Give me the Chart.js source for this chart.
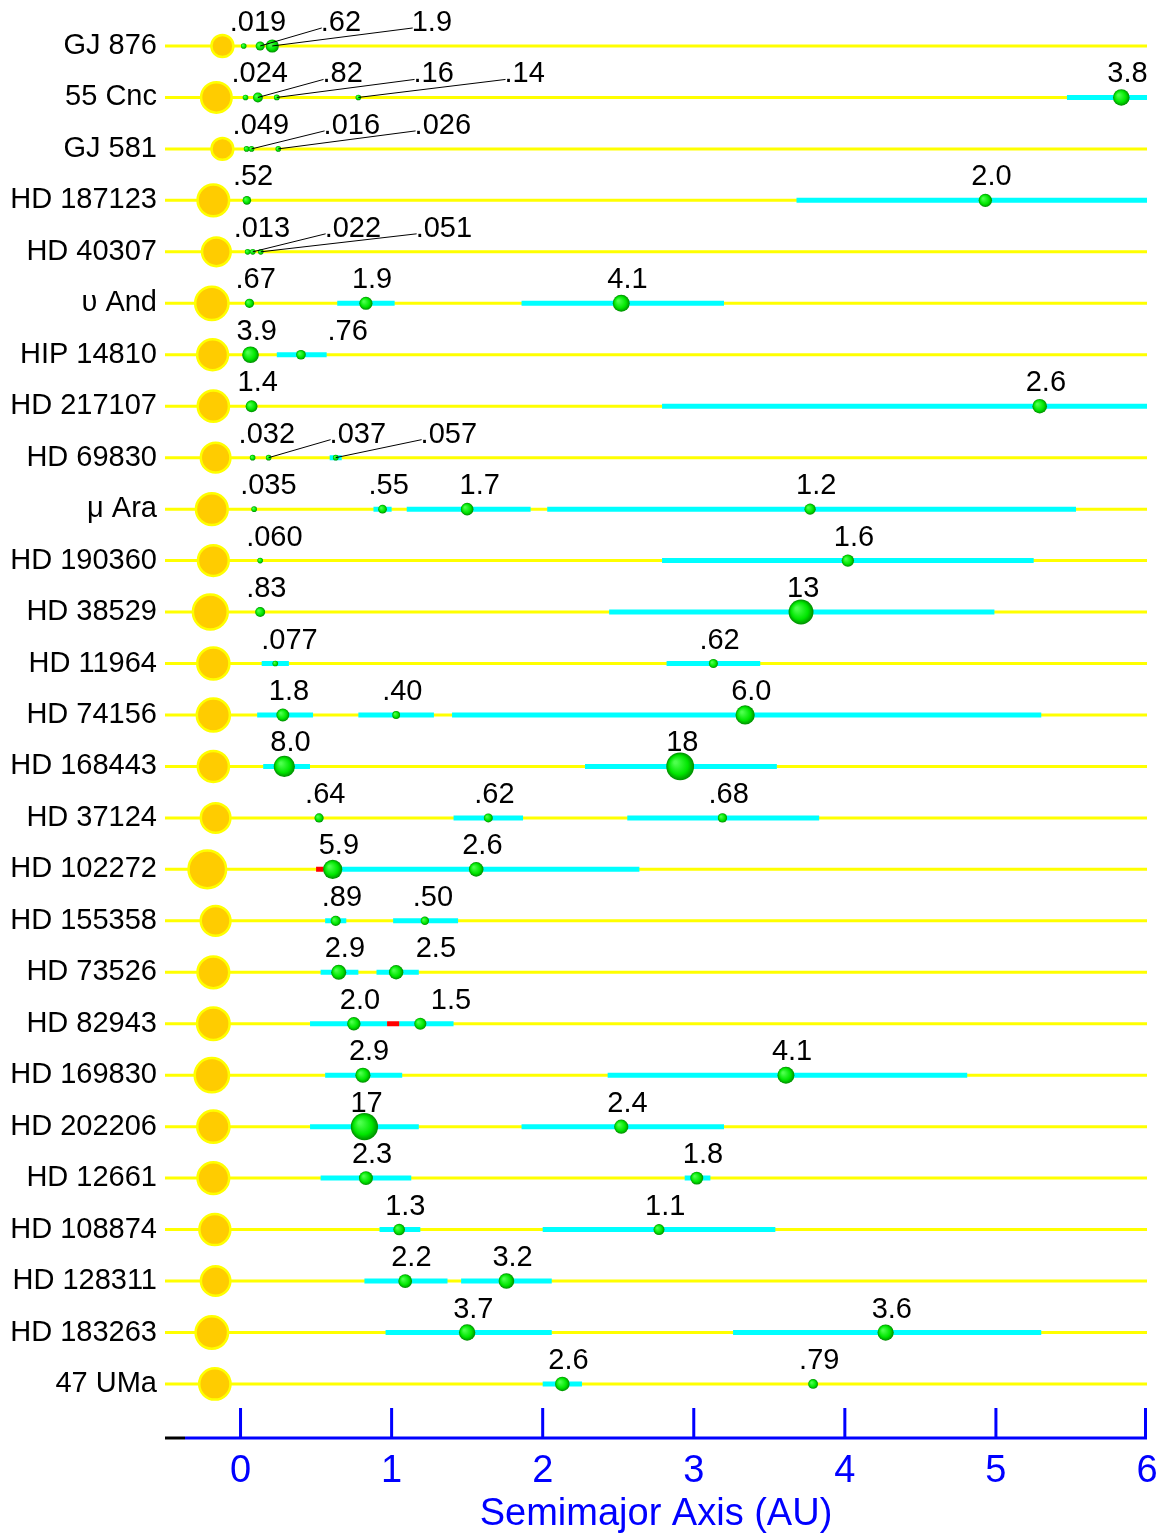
<!DOCTYPE html>
<html>
<head>
<meta charset="utf-8">
<script src="https://cdn.jsdelivr.net/npm/chart.js@4.4.1/dist/chart.umd.min.js"></script>
<style>
  html, body { margin: 0; padding: 0; background: #fff; overflow: hidden; }
  #wrap { width: 1162px; height: 1537px; position: relative; }
  #chart { display: block; }
</style>
</head>
<body>
<div id="wrap"><canvas id="chart"></canvas></div>
<script>
// Systems, top to bottom
const systems = [
  'GJ 876', '55 Cnc', 'GJ 581', 'HD 187123', 'HD 40307', 'υ And', 'HIP 14810',
  'HD 217107', 'HD 69830', 'μ Ara', 'HD 190360', 'HD 38529', 'HD 11964',
  'HD 74156', 'HD 168443', 'HD 37124', 'HD 102272', 'HD 155358', 'HD 73526',
  'HD 82943', 'HD 169830', 'HD 202206', 'HD 12661', 'HD 108874', 'HD 128311',
  'HD 183263', '47 UMa'
];
// where the star is drawn (AU) and its mass (solar masses)
const starAU = [
  -0.12, -0.16, -0.12, -0.18, -0.16, -0.19, -0.185, -0.18, -0.165, -0.19, -0.18,
  -0.20, -0.18, -0.18, -0.18, -0.165, -0.22, -0.165, -0.18, -0.18, -0.19, -0.18,
  -0.18, -0.17, -0.165, -0.19, -0.17
];
const starMass = [
  0.32, 0.95, 0.31, 1.06, 0.77, 1.27, 0.99, 1.02, 0.86, 1.08, 0.98, 1.48, 1.13,
  1.24, 1.01, 0.85, 1.9, 0.87, 1.08, 1.18, 1.4, 1.13, 1.07, 1.0, 0.84, 1.17, 1.03
];

// Planets: row, semimajor axis (AU), mass label (Jupiter masses)
const planetRow = [
  0, 0, 0,
  1, 1, 1, 1, 1,
  2, 2, 2,
  3, 3,
  4, 4, 4,
  5, 5, 5,
  6, 6,
  7, 7,
  8, 8, 8,
  9, 9, 9, 9,
  10, 10,
  11, 11,
  12, 12,
  13, 13, 13,
  14, 14,
  15, 15, 15,
  16, 16,
  17, 17,
  18, 18,
  19, 19,
  20, 20,
  21, 21,
  22, 22,
  23, 23,
  24, 24,
  25, 25,
  26, 26
];
const planetAU = [
  0.021, 0.13, 0.21,
  0.033, 0.115, 0.24, 0.78, 5.83,
  0.04, 0.073, 0.25,
  0.042, 4.93,
  0.047, 0.081, 0.134,
  0.059, 0.83, 2.52,
  0.066, 0.40,
  0.073, 5.29,
  0.08, 0.186, 0.63,
  0.09, 0.94, 1.5, 3.77,
  0.13, 4.02,
  0.13, 3.71,
  0.23, 3.13,
  0.28, 1.03, 3.34,
  0.29, 2.91,
  0.52, 1.64, 3.19,
  0.61, 1.56,
  0.63, 1.22,
  0.65, 1.03,
  0.75, 1.19,
  0.81, 3.61,
  0.82, 2.52,
  0.83, 3.02,
  1.05, 2.77,
  1.09, 1.76,
  1.5, 4.27,
  2.13, 3.79
];
const planetMass = [
  '.019', '.62', '1.9',
  '.024', '.82', '.16', '.14', '3.8',
  '.049', '.016', '.026',
  '.52', '2.0',
  '.013', '.022', '.051',
  '.67', '1.9', '4.1',
  '3.9', '.76',
  '1.4', '2.6',
  '.032', '.037', '.057',
  '.035', '.55', '1.7', '1.2',
  '.060', '1.6',
  '.83', '13',
  '.077', '.62',
  '1.8', '.40', '6.0',
  '8.0', '18',
  '.64', '.62', '.68',
  '5.9', '2.6',
  '.89', '.50',
  '2.9', '2.5',
  '2.0', '1.5',
  '2.9', '4.1',
  '17', '2.4',
  '2.3', '1.8',
  '1.3', '1.1',
  '2.2', '3.2',
  '3.7', '3.6',
  '2.6', '.79'
];
// periastron / apastron distance range (AU), null where none is shown
const orbitLo = [
  null, null, null,
  null, null, null, null, 5.47,
  null, null, null,
  null, 3.68,
  null, null, null,
  null, 0.64, 1.86,
  null, 0.24,
  null, 2.79,
  null, null, 0.59,
  null, 0.88, 1.1, 2.03,
  null, 2.79,
  null, 2.44,
  0.14, 2.82,
  0.11, 0.78, 1.4,
  0.15, 2.28,
  null, 1.41, 2.56,
  null, 0.55,
  0.56, 1.01,
  0.53, 0.9,
  0.46, 1.05,
  0.56, 2.43,
  0.46, 1.86,
  0.53, 2.94,
  0.92, 2.0,
  0.82, 1.46,
  0.96, 3.26,
  2.0, null
];
const orbitHi = [
  null, null, null,
  null, null, null, null, 6.19,
  null, null, null,
  null, 6.11,
  null, null, null,
  null, 1.02, 3.2,
  null, 0.57,
  null, 8.0,
  null, null, 0.67,
  null, 1.0, 1.92, 5.53,
  null, 5.25,
  null, 4.99,
  0.32, 3.44,
  0.48, 1.28, 5.3,
  0.46, 3.55,
  null, 1.87, 3.83,
  null, 2.64,
  0.70, 1.44,
  0.78, 1.18,
  0.97, 1.41,
  1.07, 4.81,
  1.18, 3.2,
  1.13, 3.11,
  1.19, 3.54,
  1.37, 2.06,
  2.06, 5.3,
  2.26, null
];
// red overlap pieces
const overlapRow = [16, 19];
const overlapLo = [0.50, 0.97];
const overlapHi = [0.55, 1.05];

const axisTicks = [0, 1, 2, 3, 4, 5, 6];
const xMin = -0.5, xMax = 6;

const FONT = "'Liberation Sans', Arial, Helvetica, sans-serif";

function segments(rows, lo, hi) {
  const out = [];
  rows.forEach((r, i) => {
    if (lo[i] == null) return;
    out.push({ x: lo[i], y: r }, { x: hi[i], y: r }, { x: null, y: null });
  });
  return out;
}

const rowLines = segments(systems.map((_, i) => i), systems.map(() => xMin), systems.map(() => xMax));
const orbitLines = segments(planetRow, orbitLo, orbitHi);
const overlapLines = segments(overlapRow, overlapLo, overlapHi);

const planetR = planetMass.map(m => Math.max(2.8, 5.3 * Math.cbrt(parseFloat(m))));
const starR = starMass.map(m => 15.5 * Math.pow(m, 0.3));

function planetFill(c) {
  if (c.type !== 'data' || !c.parsed) return '#00e000';
  const sx = c.chart.scales.x, sy = c.chart.scales.y;
  if (!sx || !sy) return '#00e000';
  const px = sx.getPixelForValue(c.parsed.x);
  const py = sy.getPixelForValue(c.parsed.y);
  if (!isFinite(px) || !isFinite(py)) return '#00e000';
  const r = planetR[c.dataIndex];
  const g = c.chart.ctx.createRadialGradient(px - r * 0.35, py - r * 0.3, r * 0.1, px, py, r);
  g.addColorStop(0, '#4dff4d');
  g.addColorStop(0.65, '#00e600');
  g.addColorStop(1, '#008c00');
  return g;
}

// mass labels, with leader lines where they had to be pushed aside
const massLabels = {
  id: 'massLabels',
  afterDatasetsDraw(chart) {
    const meta = chart.getDatasetMeta(0);
    const ctx = chart.ctx;
    ctx.save();
    ctx.font = '29px ' + FONT;
    ctx.fillStyle = '#000';
    ctx.strokeStyle = '#000';
    ctx.lineWidth = 1;
    ctx.textAlign = 'left';
    ctx.textBaseline = 'alphabetic';
    systems.forEach((_, row) => {
      let prev = null;
      planetRow.forEach((r, i) => {
        if (r !== row) return;
        const el = meta.data[i];
        const natural = el.x - 14;
        let left = natural;
        if (prev !== null) left = Math.max(left, prev + 91);
        if (left - natural > 50) {
          ctx.beginPath();
          ctx.moveTo(el.x, el.y);
          ctx.lineTo(left + 1, el.y - 18);
          ctx.stroke();
        }
        ctx.fillText(planetMass[i], left, el.y - 15);
        prev = left;
      });
    });
    ctx.restore();
  }
};

// blue axis line with upward ticks and its numbers
const axisLine = {
  id: 'axisLine',
  afterDraw(chart) {
    const { ctx, chartArea } = chart;
    const sx = chart.scales.x;
    const y = chartArea.bottom;
    ctx.save();
    ctx.lineWidth = 3;
    ctx.strokeStyle = '#000';
    ctx.beginPath();
    ctx.moveTo(chartArea.left, y);
    ctx.lineTo(chartArea.left + 20, y);
    ctx.stroke();
    ctx.strokeStyle = '#0000ff';
    ctx.beginPath();
    ctx.moveTo(chartArea.left + 20, y);
    ctx.lineTo(chartArea.right, y);
    axisTicks.forEach(v => {
      const x = Math.min(sx.getPixelForValue(v), chartArea.right - 1.5);
      ctx.moveTo(x, y);
      ctx.lineTo(x, y - 30);
    });
    ctx.stroke();
    ctx.fillStyle = '#0000ff';
    ctx.font = '38px ' + FONT;
    ctx.textAlign = 'center';
    ctx.textBaseline = 'top';
    axisTicks.forEach(v => {
      ctx.fillText(String(v), sx.getPixelForValue(v), y + 15);
    });
    ctx.restore();
  }
};

new Chart(document.getElementById('chart'), {
  type: 'scatter',
  data: {
    datasets: [
      {
        label: 'planets',
        data: planetAU.map((a, i) => ({ x: a, y: planetRow[i] })),
        pointRadius: planetR,
        backgroundColor: planetFill,
        borderWidth: 0,
        clip: false,
        order: 0
      },
      {
        label: 'stars',
        data: starAU.map((a, i) => ({ x: a, y: i })),
        pointRadius: starR,
        backgroundColor: '#ffcc00',
        borderColor: '#ffff00',
        borderWidth: 2.5,
        clip: false,
        order: 1
      },
      {
        type: 'line',
        label: 'overlap',
        data: overlapLines,
        borderColor: '#ff0000',
        borderWidth: 5,
        borderCapStyle: 'butt',
        pointRadius: 0,
        spanGaps: false,
        clip: 0,
        order: 2
      },
      {
        type: 'line',
        label: 'orbits',
        data: orbitLines,
        borderColor: '#00ffff',
        borderWidth: 5,
        borderCapStyle: 'butt',
        pointRadius: 0,
        spanGaps: false,
        clip: 0,
        order: 3
      },
      {
        type: 'line',
        label: 'rows',
        data: rowLines,
        borderColor: '#ffff00',
        borderWidth: 3,
        pointRadius: 0,
        spanGaps: false,
        clip: 0,
        order: 4
      }
    ]
  },
  options: {
    responsive: true,
    maintainAspectRatio: false,
    animation: false,
    events: [],
    layout: { autoPadding: false, padding: { top: 18, right: 15, left: 0, bottom: 0 } },
    plugins: {
      legend: { display: false },
      tooltip: { enabled: false }
    },
    scales: {
      x: {
        type: 'linear',
        min: xMin,
        max: xMax,
        afterBuildTicks: (s) => { s.ticks = axisTicks.map(v => ({ value: v })); },
        afterFit: (s) => { s.height = 99; },
        grid: { display: false, drawTicks: false },
        border: { display: false },
        ticks: { display: false },
        title: {
          display: true,
          text: 'Semimajor Axis (AU)',
          color: '#0000ff',
          font: { size: 38, family: FONT },
          padding: { top: 0, bottom: 0 }
        }
      },
      y: {
        type: 'linear',
        reverse: true,
        min: -0.4,
        max: 27.05,
        afterBuildTicks: (s) => { s.ticks = systems.map((_, i) => ({ value: i })); },
        afterFit: (s) => { s.width = 165; },
        grid: { display: false, drawTicks: false },
        border: { display: false },
        ticks: {
          color: '#000',
          font: { size: 29, family: FONT },
          padding: 8,
          autoSkip: false,
          callback: (v) => systems[v] ?? ''
        }
      }
    }
  },
  plugins: [massLabels, axisLine]
});
</script>
</body>
</html>
